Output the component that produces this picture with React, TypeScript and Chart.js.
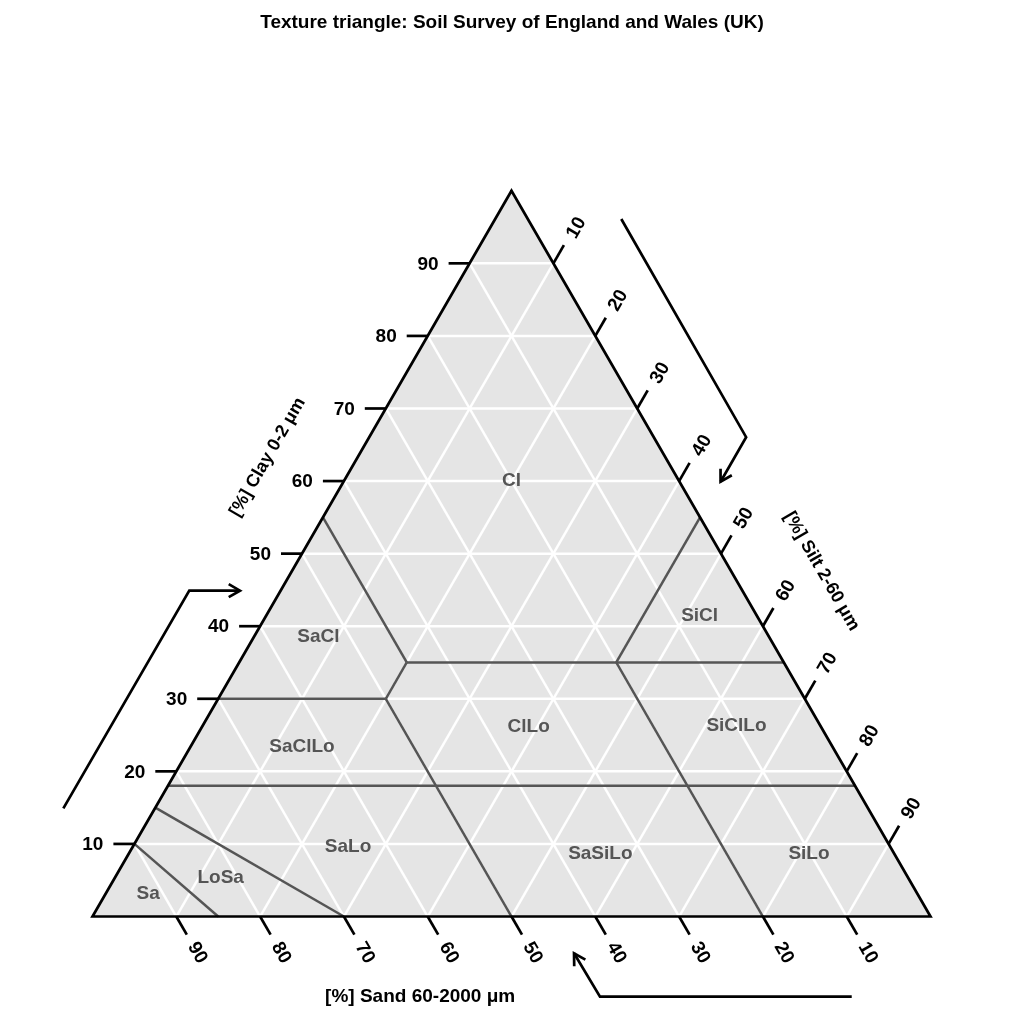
import React, { useEffect, useRef } from "react";
import { Chart, registerables } from "chart.js";

Chart.register(...registerables);

const SQ = Math.sqrt(3) / 2;

const TITLE = "Texture triangle: Soil Survey of England and Wales (UK)";
const CLAY_TITLE = "[%] Clay 0-2 \u03bcm";
const SILT_TITLE = "[%] Silt 2-60 \u03bcm";
const SAND_TITLE = "[%] Sand 60-2000 \u03bcm";

const gridLevels = [10, 20, 30, 40, 50, 60, 70, 80, 90];
const clayTicks = [10, 20, 30, 40, 50, 60, 70, 80, 90];
const siltTicks = [10, 20, 30, 40, 50, 60, 70, 80, 90];
const sandTicks = [10, 20, 30, 40, 50, 60, 70, 80, 90];

// class boundaries: segments given as [clay, silt] vertices
const boundaryFrom: number[][] = [
  [18, 0], [30, 0], [35, 20], [55, 0], [35, 20], [30, 20], [55, 45], [35, 45], [15, 0], [10, 0],
];
const boundaryTo: number[][] = [
  [18, 82], [30, 20], [35, 65], [35, 20], [30, 20], [0, 50], [35, 45], [0, 80], [0, 30], [0, 15],
];

// texture class labels with their [clay, silt] label positions
const classNames = ["Cl", "SaCl", "SiCl", "SaClLo", "ClLo", "SiClLo", "SaLo", "SaSiLo", "SiLo", "LoSa", "Sa"];
const classClay = [60, 38.5, 41.5, 23.4, 26.1, 26.3, 9.6, 8.6, 8.6, 5.4, 3.1];
const classSilt = [20, 7.7, 51.7, 13.3, 39, 63.7, 25.7, 56.3, 81.2, 12.6, 5.1];

// direction arrows (in plotting units)
const clayArrowX = [-3.48, 11.55, 17.6];
const clayArrowY = [12.91, 38.88, 38.88];
const siltArrowX = [63.1, 78.0, 74.95];
const siltArrowY = [83.23, 57.2, 51.88];
const sandArrowX = [90.6, 60.56, 57.46];
const sandArrowY = [-9.57, -9.57, -4.39];

const tern = (clay: number, silt: number) => ({ x: silt + clay / 2, y: clay * SQ });

const FONT = '"Liberation Sans", Arial, Helvetica, sans-serif';

function buildDatasets() {
  const ds: any[] = [];
  // gray fill
  ds.push({
    data: [tern(0, 0), tern(100, 0), tern(0, 100)],
    showLine: true,
    fill: "origin",
    backgroundColor: "#E5E5E5",
    borderWidth: 0,
    borderColor: "rgba(0,0,0,0)",
    pointRadius: 0,
    order: 10,
    clip: false,
  });
  // white grid lines
  for (const k of gridLevels) {
    const segs = [
      [tern(k, 0), tern(k, 100 - k)], // clay constant
      [tern(0, k), tern(100 - k, k)], // silt constant
      [tern(0, 100 - k), tern(100 - k, 0)], // sand constant
    ];
    for (const s of segs) {
      ds.push({
        data: s,
        showLine: true,
        borderColor: "#FFFFFF",
        borderWidth: 2.5,
        pointRadius: 0,
        fill: false,
        order: 8,
        clip: false,
      });
    }
  }
  // class boundaries
  for (let i = 0; i < boundaryFrom.length; i++) {
    ds.push({
      data: [tern(boundaryFrom[i][0], boundaryFrom[i][1]), tern(boundaryTo[i][0], boundaryTo[i][1])],
      showLine: true,
      borderColor: "#555555",
      borderWidth: 2.5,
      pointRadius: 0,
      fill: false,
      order: 6,
      clip: false,
    });
  }
  // triangle border
  ds.push({
    data: [tern(0, 0), tern(100, 0), tern(0, 100), tern(0, 0), tern(100, 0)],
    showLine: true,
    borderColor: "#000000",
    borderWidth: 2.7,
    borderJoinStyle: "miter",
    pointRadius: 0,
    fill: false,
    order: 4,
    clip: false,
  });
  return ds;
}

const decorPlugin = {
  id: "decor",
  afterDatasetsDraw(chart: any) {
    const ctx: CanvasRenderingContext2D = chart.ctx;
    const xs = chart.scales.x;
    const ys = chart.scales.y;
    const px = (x: number, y: number) => [xs.getPixelForValue(x), ys.getPixelForValue(y)];
    const P = (clay: number, silt: number) => {
      const t = tern(clay, silt);
      return px(t.x, t.y);
    };
    ctx.save();
    ctx.strokeStyle = "#000";
    ctx.fillStyle = "#000";
    ctx.lineWidth = 2.7;
    ctx.lineCap = "butt";
    const tickLen = 21;
    const labOff = 42;
    ctx.font = `bold 19px ${FONT}`;
    // clay ticks (left edge)
    for (const c of clayTicks) {
      const [x0, y0] = P(c, 0);
      ctx.beginPath();
      ctx.moveTo(x0, y0);
      ctx.lineTo(x0 - tickLen, y0);
      ctx.stroke();
      ctx.textAlign = "right";
      ctx.textBaseline = "middle";
      ctx.fillText(String(c), x0 - 31, y0 + 1);
    }
    // silt ticks (right edge)
    const ux = Math.cos(Math.PI / 3), uy = Math.sin(Math.PI / 3);
    for (const s of siltTicks) {
      const [x0, y0] = P(100 - s, s);
      ctx.beginPath();
      ctx.moveTo(x0, y0);
      ctx.lineTo(x0 + tickLen * ux, y0 - tickLen * uy);
      ctx.stroke();
      ctx.save();
      ctx.translate(x0 + labOff * ux + 2, y0 - labOff * uy + 1);
      ctx.rotate(-Math.PI / 3);
      ctx.textAlign = "center";
      ctx.textBaseline = "middle";
      ctx.fillText(String(s), 0, 0);
      ctx.restore();
    }
    // sand ticks (bottom edge)
    for (const s of sandTicks) {
      const [x0, y0] = P(0, 100 - s);
      ctx.beginPath();
      ctx.moveTo(x0, y0);
      ctx.lineTo(x0 + tickLen * ux, y0 + tickLen * uy);
      ctx.stroke();
      ctx.save();
      ctx.translate(x0 + labOff * ux, y0 + labOff * uy);
      ctx.rotate(Math.PI / 3);
      ctx.textAlign = "center";
      ctx.textBaseline = "middle";
      ctx.fillText(String(s), 0, 0);
      ctx.restore();
    }
    // class labels
    ctx.fillStyle = "#555555";
    ctx.font = `bold 19px ${FONT}`;
    ctx.textAlign = "center";
    ctx.textBaseline = "middle";
    for (let i = 0; i < classNames.length; i++) {
      const [x0, y0] = P(classClay[i], classSilt[i]);
      ctx.fillText(classNames[i], x0, y0);
    }
    // axis titles
    ctx.fillStyle = "#000";
    ctx.font = `bold 18px ${FONT}`;
    {
      const [x0, y0] = px(20.9, 54.8);
      ctx.save();
      ctx.translate(x0, y0);
      ctx.rotate(-Math.PI / 3);
      ctx.fillText(CLAY_TITLE, 0, 0);
      ctx.restore();
    }
    {
      const [x0, y0] = px(87.0, 41.2);
      ctx.save();
      ctx.translate(x0, y0);
      ctx.rotate(Math.PI / 3);
      ctx.fillText(SILT_TITLE, 0, 0);
      ctx.restore();
    }
    ctx.font = `bold 19px ${FONT}`;
    {
      const [x0, y0] = px(39.1, -9.6);
      ctx.fillText(SAND_TITLE, x0, y0);
    }
    // arrows
    const arrow = (ax: number[], ay: number[]) => {
      const pts = ax.map((x, i) => px(x, ay[i]));
      ctx.lineWidth = 2.7;
      ctx.lineJoin = "miter";
      ctx.beginPath();
      ctx.moveTo(pts[0][0], pts[0][1]);
      for (let i = 1; i < pts.length; i++) ctx.lineTo(pts[i][0], pts[i][1]);
      ctx.stroke();
      const n = pts.length;
      const [tx, ty] = pts[n - 1];
      const [sx, sy] = pts[n - 2];
      const ang = Math.atan2(ty - sy, tx - sx);
      const L = 13, a = Math.PI / 6;
      ctx.beginPath();
      ctx.moveTo(tx - L * Math.cos(ang - a), ty - L * Math.sin(ang - a));
      ctx.lineTo(tx, ty);
      ctx.lineTo(tx - L * Math.cos(ang + a), ty - L * Math.sin(ang + a));
      ctx.stroke();
    };
    arrow(clayArrowX, clayArrowY);
    arrow(siltArrowX, siltArrowY);
    arrow(sandArrowX, sandArrowY);
    // title
    ctx.font = `bold 19px ${FONT}`;
    ctx.textAlign = "center";
    ctx.textBaseline = "middle";
    ctx.fillText(TITLE, 512, 23);
    ctx.restore();
  },
};

export default function App() {
  const ref = useRef<HTMLCanvasElement | null>(null);
  useEffect(() => {
    if (!ref.current) return;
    const chart = new Chart(ref.current, {
      type: "scatter",
      data: { datasets: buildDatasets() },
      options: {
        animation: false,
        responsive: false,
        maintainAspectRatio: false,
        layout: { padding: { left: 92.5, right: 93.5, top: 916.5 - 100 * SQ * 8.38, bottom: 107.5 } },
        plugins: { legend: { display: false }, tooltip: { enabled: false }, title: { display: false } },
        scales: {
          x: { type: "linear", min: 0, max: 100, display: false },
          y: { type: "linear", min: 0, max: 100 * SQ, display: false },
        },
      },
      plugins: [decorPlugin],
    } as any);
    return () => chart.destroy();
  }, []);
  return (
    <div style={{ position: "absolute", left: 0, top: 0, width: 1024, height: 1024, background: "#fff" }}>
      <canvas ref={ref} width={1024} height={1024} style={{ width: 1024, height: 1024 }} />
    </div>
  );
}
